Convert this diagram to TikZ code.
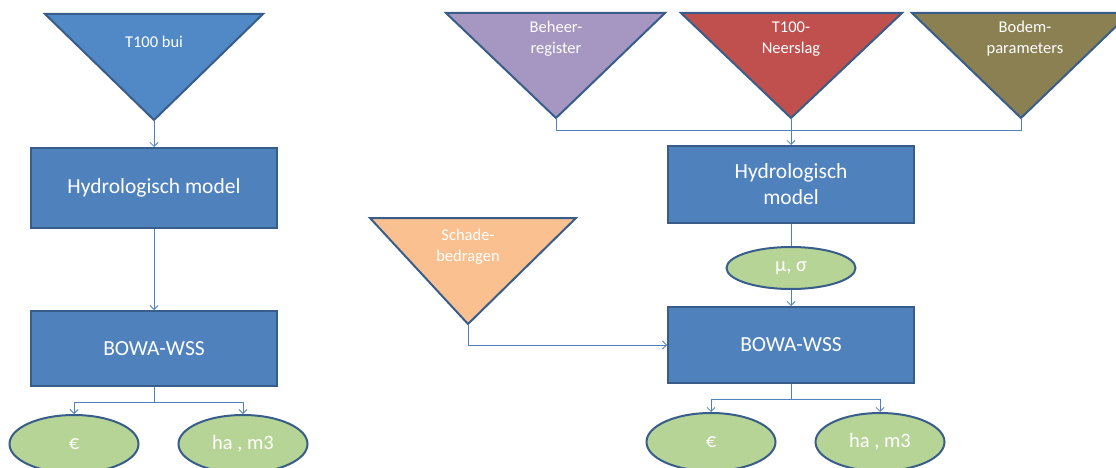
\documentclass[tikz,border=0pt]{standalone}
\usepackage{fontspec}
\setmainfont{Carlito}
\usetikzlibrary{shapes.geometric,arrows.meta}
\definecolor{boxfill}{HTML}{4F81BD}
\definecolor{boxborder}{HTML}{385D8A}
\definecolor{trib}{HTML}{5089C6}
\definecolor{beheer}{HTML}{A597C1}
\definecolor{neerslag}{HTML}{C0504D}
\definecolor{bodem}{HTML}{8A8052}
\definecolor{schade}{HTML}{FAC08F}
\definecolor{ellfill}{HTML}{B6D496}
\definecolor{linecol}{HTML}{4F81BD}
\tikzset{
  procbox/.style={draw=boxborder, line width=2pt, fill=boxfill, text=white,
    minimum width=246pt, align=center, font=\fontsize{21.5}{26}\selectfont},
  outell/.style={ellipse, draw=boxborder, line width=2pt, fill=ellfill, text=white,
    minimum width=129pt, minimum height=58pt, inner sep=0pt, font=\fontsize{20.5}{24}\selectfont},
  tri/.style={draw=boxborder, line width=2pt, line join=miter},
  tritext/.style={text=white, align=center, font=\fontsize{16.5}{21}\selectfont},
  link/.style={draw=linecol, line width=0.8pt},
  conn/.style={link, -{Straight Barb[length=4pt,width=8pt]}}
}
\begin{document}
\begin{tikzpicture}[x=1pt,y=-1pt]
\useasboundingbox (0,0) rectangle (1116,468);
\clip (0,0) rectangle (1116,468);
% left column
\draw[tri, fill=trib] (45,14) -- (263,14) -- (154,120) -- cycle;
\coordinate (tL) at (154,120);
\node[tritext] (tLtxt) at (154,42) {T100 bui};
\node[procbox, minimum height=80pt] (hL) at (154,188) {Hydrologisch model};
\node[procbox, minimum height=75pt] (bL) at (154,348.5) {BOWA-WSS};
\node[outell] (eL1) at (74,444) {€};
\node[outell] (eL2) at (243,444) {ha , m3};
\draw[conn] (tL) -- (hL.north);
\draw[conn] (hL) -- (bL);
\draw[conn] (bL.south) -- ++(0,15) -| (eL1.north);
\draw[conn] (bL.south) -- ++(0,15) -| (eL2.north);
% right column
\draw[tri, fill=beheer] (446,13) -- (665,13) -- (556,118) -- cycle;
\coordinate (bh) at (556,118);
\node[tritext] (bhtxt) at (556,39) {Beheer-\\register};
\draw[tri, fill=neerslag] (681,13) -- (902,13) -- (791,118) -- cycle;
\coordinate (nr) at (791,118);
\node[tritext] (nrtxt) at (791,39) {T100-\\Neerslag};
\draw[tri, fill=bodem] (912,13) -- (1130,13) -- (1021,118) -- cycle;
\coordinate (bo) at (1021,118);
\node[tritext] (botxt) at (1025,39) {Bodem-\\parameters};
\draw[tri, fill=schade] (370,218) -- (576,218) -- (468,324) -- cycle;
\coordinate (sc) at (468,324);
\node[tritext] (sctxt) at (468,247) {Schade-\\bedragen};
\node[procbox, minimum height=77pt] (hR) at (791,184.5) {Hydrologisch\\model};
\node[outell, minimum height=42pt] (mu) at (791,268) {μ, σ};
\node[procbox, minimum height=76pt] (bR) at (791,345) {BOWA-WSS};
\node[outell] (eR1) at (711,442) {€};
\node[outell] (eR2) at (880,442) {ha , m3};
\draw[link] (bh) -- ++(0,12) -| (bo);
\draw[conn] (nr) -- (hR.north);
\draw[link] (hR.south) -- (mu.north);
\draw[conn] (mu.south) -- (bR.north);
\draw[conn] (sc) |- (bR.west);
\draw[conn] (bR.south) -- ++(0,15) -| (eR1.north);
\draw[conn] (bR.south) -- ++(0,15) -| (eR2.north);
\end{tikzpicture}
\end{document}
